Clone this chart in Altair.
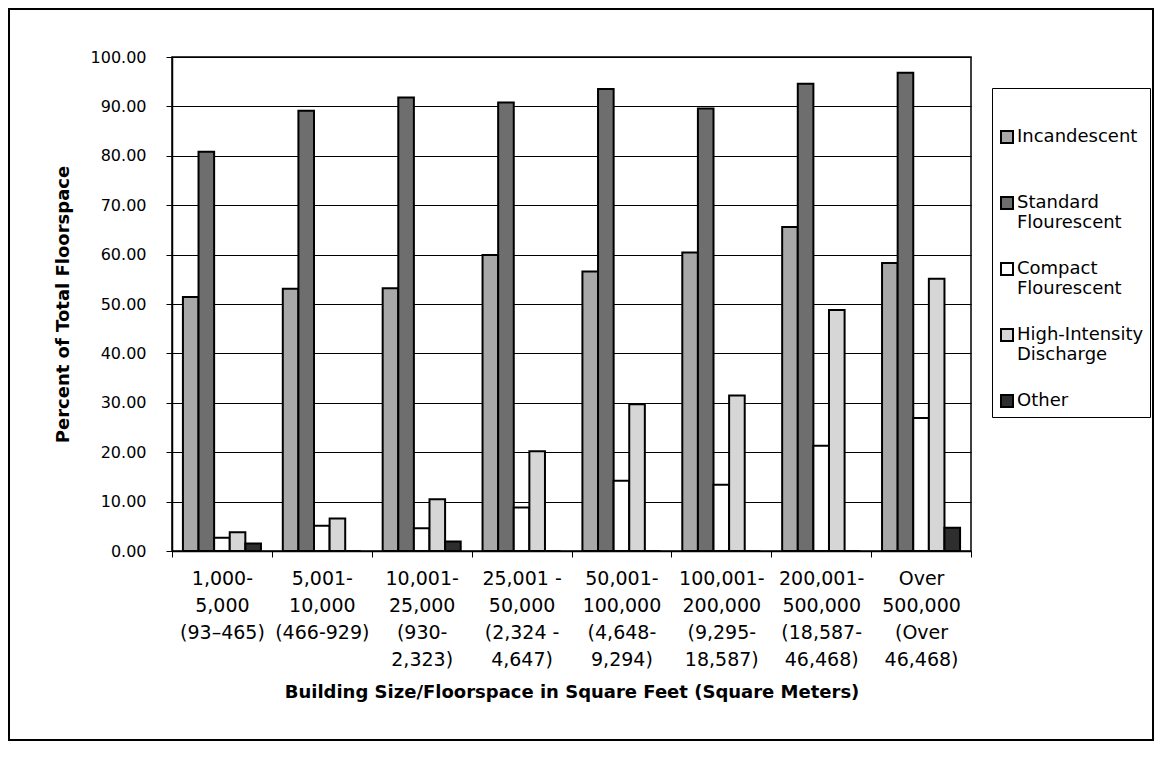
import altair as alt
import pandas as pd

categories = [
    "1,000-\n5,000\n(93–465)",
    "5,001-\n10,000\n(466-929)",
    "10,001-\n25,000\n(930-\n2,323)",
    "25,001 -\n50,000\n(2,324 -\n4,647)",
    "50,001-\n100,000\n(4,648-\n9,294)",
    "100,001-\n200,000\n(9,295-\n18,587)",
    "200,001-\n500,000\n(18,587-\n46,468)",
    "Over\n500,000\n(Over\n46,468)",
]
series = [
    "Incandescent",
    "Standard\nFlourescent",
    "Compact\nFlourescent",
    "High-Intensity\nDischarge",
    "Other",
]
incandescent = [51.4, 53.1, 53.2, 59.9, 56.6, 60.4, 65.6, 58.3]
standard = [80.8, 89.1, 91.8, 90.8, 93.5, 89.6, 94.6, 96.8]
compact = [2.7, 5.1, 4.6, 8.8, 14.2, 13.4, 21.3, 26.9]
hid = [3.8, 6.6, 10.5, 20.2, 29.7, 31.5, 48.8, 55.1]
other = [1.5, 0.0, 1.9, 0.0, 0.0, 0.0, 0.0, 4.7]
y_ticks = [0, 10, 20, 30, 40, 50, 60, 70, 80, 90, 100]
colors = ["#a8a8a8", "#6e6e6e", "#ffffff", "#d6d6d6", "#2e2e2e"]

rows = []
for i, c in enumerate(categories):
    for s, vals in zip(series, [incandescent, standard, compact, hid, other]):
        rows.append({"size": c, "type": s, "pct": vals[i]})
df = pd.DataFrame(rows)

FONT = "DejaVu Sans"
W, H = 799, 494

legend_label_expr = (
    "indexof(datum.label, '\\n') >= 0 ? split(datum.label, '\\n') : "
    "(datum.label == 'Other' ? datum.label : [datum.label, ' '])"
)

bars = alt.Chart(df).mark_bar(stroke="black", strokeWidth=2).encode(
    x=alt.X(
        "size:N",
        sort=categories,
        scale=alt.Scale(paddingInner=0, paddingOuter=0),
        axis=alt.Axis(
            title="Building Size/Floorspace in Square Feet (Square Meters)",
            labelAngle=0,
            labelExpr="split(datum.label, '\\n')",
            labelLineHeight=27,
            labelPadding=12,
            labelBaseline="top",
            labelFontSize=19,
            tickBand="extent",
            tickSize=6,
            tickColor="black",
            domainColor="black",
            domainWidth=1.5,
            titlePadding=14,
        ),
    ),
    xOffset=alt.XOffset(
        "type:N", sort=series, scale=alt.Scale(paddingOuter=0.7, paddingInner=0)
    ),
    y=alt.Y(
        "pct:Q",
        scale=alt.Scale(domain=[0, 100], nice=False),
        axis=alt.Axis(
            values=y_ticks,
            format=".2f",
            title="Percent of Total Floorspace",
            labelFontSize=16,
            tickSize=6,
            tickColor="black",
            labelPadding=20,
            titlePadding=18,
            gridColor="black",
            gridWidth=1.2,
            domainColor="black",
            domainWidth=1.5,
        ),
    ),
    color=alt.Color(
        "type:N",
        sort=series,
        scale=alt.Scale(domain=series, range=colors),
        legend=alt.Legend(
            title=" ",
            titleFontSize=10,
            titlePadding=24,
            orient="none",
            legendX=820,
            legendY=31,
            labelExpr=legend_label_expr,
            labelFontSize=18,
            labelFont=FONT,
            labelColor="black",
            labelLimit=200,
            symbolType="square",
            symbolSize=144,
            symbolStrokeColor="black",
            symbolStrokeWidth=2,
            rowPadding=27,
            padding=6,
            strokeColor="black",
            labelOffset=1,
        ),
    ),
)

frame = alt.Chart(alt.Data(values=[{}])).mark_rect(
    filled=False, stroke="black", strokeWidth=2
).encode(
    x=alt.value(-163), x2=alt.value(981), y=alt.value(-48), y2=alt.value(683)
)

chart = (
    alt.layer(bars, frame)
    .properties(width=W, height=H, padding=0)
    .configure_view(stroke="black", strokeWidth=1.5)
    .configure_axis(
        labelFont=FONT,
        labelColor="black",
        titleFont=FONT,
        titleFontSize=18,
        titleFontWeight="bold",
        titleColor="black",
        grid=False,
    )
    .configure_axisY(grid=True)
)

chart.save("out.html", embed_options={"renderer": "svg", "actions": False})
